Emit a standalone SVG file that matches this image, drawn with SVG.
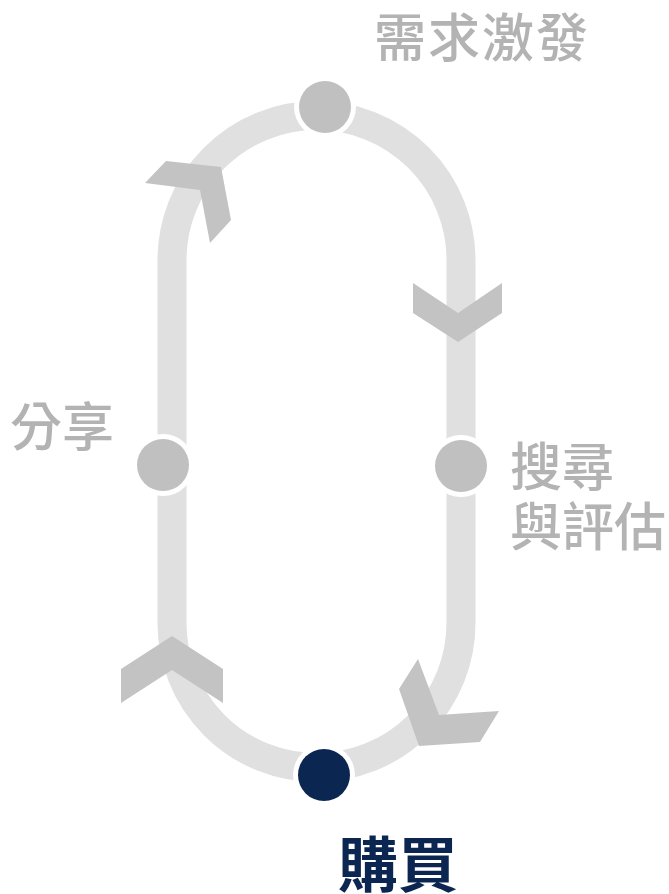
<svg xmlns="http://www.w3.org/2000/svg" width="669" height="894" viewBox="0 0 669 894">
<style>
.ring{fill:none;stroke:#e0e0e0;stroke-width:29}
.chev{fill:#c3c3c3}
.halo{fill:#ffffff}
.node{fill:#c0c0c0}
.node.active{fill:#0b2651}
.lbl{font-family:"Noto Sans CJK TC","Noto Sans CJK SC",sans-serif;font-size:52px;fill:#b3b3b3;font-weight:500}
.lbl.active{fill:#0b2651;font-size:60px;font-weight:700}
</style>
<rect width="669" height="894" fill="#ffffff"/>
<g id="connectors">
<path class="ring" d="M172,260 A144.5,144.5 0 0 1 461,260 L461,623 A144.5,144.5 0 0 1 172,623 Z"/>
<polygon class="chev" points="145,183 166,161 221,167 231,220 210,243 200,190"/>
<polygon class="chev" points="413,283 458,313 502,283 502,313 458,342 413,313"/>
<polygon class="chev" points="399,689 418,659 439,715 499,711 480,742 419,746"/>
<polygon class="chev" points="121,669 172,636 223,669 223,703 172,670 121,703"/>
</g>
<g id="node-demand">
<circle class="halo" cx="325" cy="107" r="31"/>
<circle class="node" cx="325" cy="107" r="26"/>
<text class="lbl" x="482" y="57" text-anchor="middle" letter-spacing="2">需求激發</text>
</g>
<g id="node-search">
<circle class="halo" cx="461" cy="466" r="31"/>
<circle class="node" cx="461" cy="466" r="26"/>
<text class="lbl" x="510" y="486">搜尋</text>
<text class="lbl" x="510" y="546">與評估</text>
</g>
<g id="node-purchase">
<circle class="halo" cx="324" cy="775" r="31"/>
<circle class="node active" cx="324" cy="775" r="26"/>
<text class="lbl active" x="398" y="887" text-anchor="middle">購買</text>
</g>
<g id="node-share">
<circle class="halo" cx="163" cy="465" r="31"/>
<circle class="node" cx="163" cy="465" r="26"/>
<text class="lbl" x="62" y="446" text-anchor="middle">分享</text>
</g>
</svg>
